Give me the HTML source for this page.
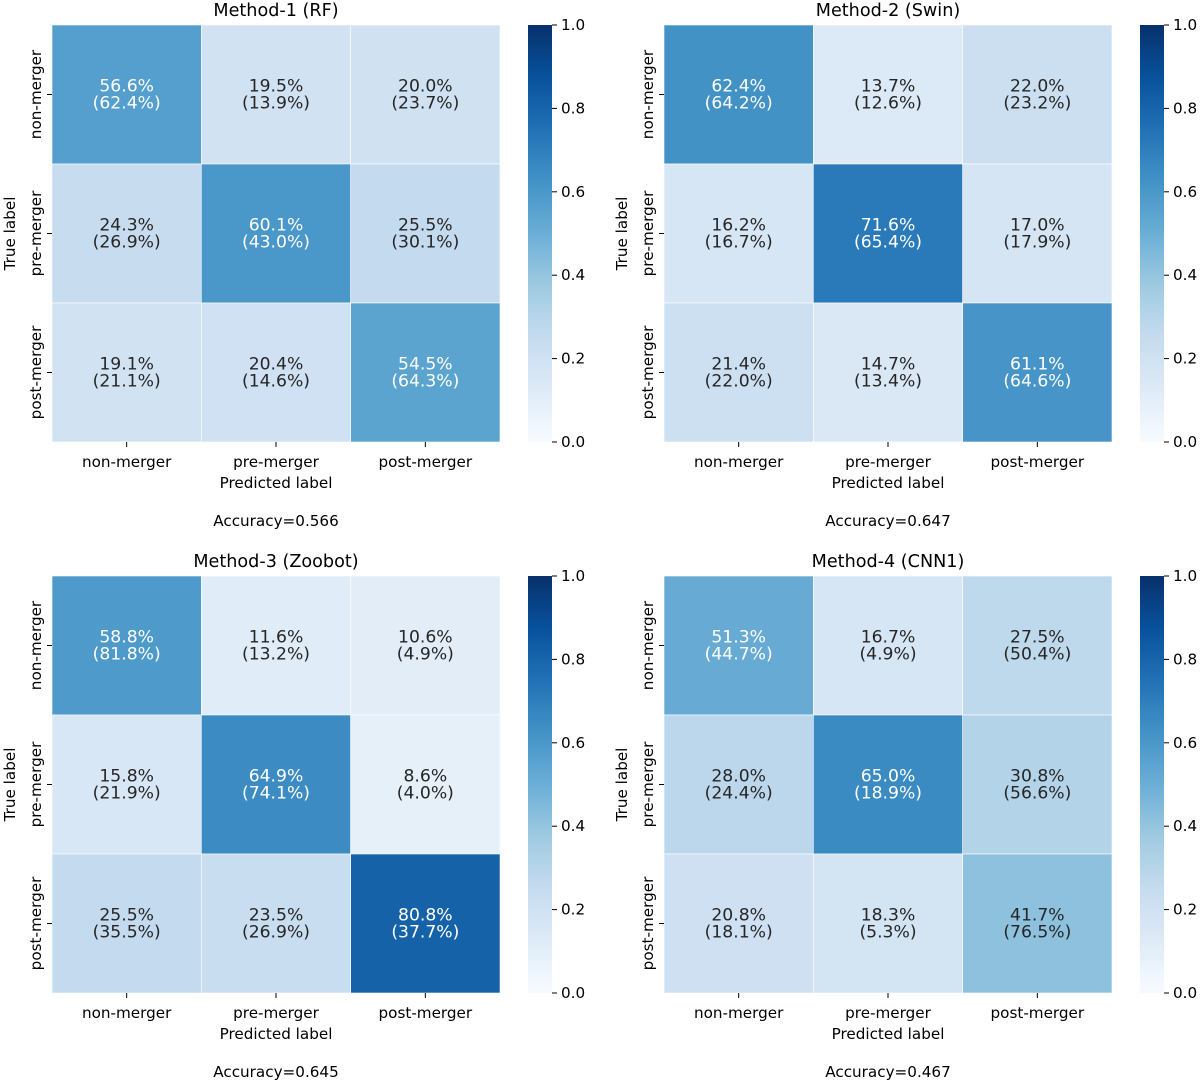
<!DOCTYPE html>
<html><head><meta charset="utf-8"><style>
body{margin:0;background:#fff}
svg{display:block;font-family:"DejaVu Sans","Liberation Sans",sans-serif}
</style></head><body>
<svg id="fig" width="1200" height="1083" viewBox="0 0 1200 1083"></svg>
<script>
const categories = ["non-merger","pre-merger","post-merger"];
const titles = ["Method-1 (RF)","Method-2 (Swin)","Method-3 (Zoobot)","Method-4 (CNN1)"];
const accuracies = ["0.566","0.647","0.645","0.467"];
const values1 = [[56.6,19.5,20.0],[24.3,60.1,25.5],[19.1,20.4,54.5]];
const paren1 = [[62.4,13.9,23.7],[26.9,43.0,30.1],[21.1,14.6,64.3]];
const values2 = [[62.4,13.7,22.0],[16.2,71.6,17.0],[21.4,14.7,61.1]];
const paren2 = [[64.2,12.6,23.2],[16.7,65.4,17.9],[22.0,13.4,64.6]];
const values3 = [[58.8,11.6,10.6],[15.8,64.9,8.6],[25.5,23.5,80.8]];
const paren3 = [[81.8,13.2,4.9],[21.9,74.1,4.0],[35.5,26.9,37.7]];
const values4 = [[51.3,16.7,27.5],[28.0,65.0,30.8],[20.8,18.3,41.7]];
const paren4 = [[44.7,4.9,50.4],[24.4,18.9,56.6],[18.1,5.3,76.5]];
const colorbarTicks = [0.0,0.2,0.4,0.6,0.8,1.0];

const allValues=[values1,values2,values3,values4];
const allParen=[paren1,paren2,paren3,paren4];
const stops=["#f7fbff","#deebf7","#c6dbef","#9ecae1","#6baed6","#4292c6","#2171b5","#08519c","#08306b"];
function hex(h){return [1,3,5].map(i=>parseInt(h.substr(i,2),16));}
function blues(v){v=Math.max(0,Math.min(1,v));const p=v*8;const i=Math.min(7,Math.floor(p));const t=p-i;
const a=hex(stops[i]),b=hex(stops[i+1]);return "rgb("+a.map((c,k)=>Math.round(c+(b[k]-c)*t)).join(",")+")";}
const NS="http://www.w3.org/2000/svg";
const fig=document.getElementById("fig");
function mk(tag,attrs,parent,text){const e=document.createElementNS(NS,tag);for(const k in attrs)e.setAttribute(k,attrs[k]);if(text!==undefined)e.textContent=text;parent.appendChild(e);return e;}
const W=448,H=417;
const origins=[[52,25],[664,25],[52,576],[664,576]];
for(let p=0;p<4;p++){
  const [ox,oy]=origins[p];
  const g=mk("g",{},fig);
  
  
  const cw=W/categories.length, ch=H/categories.length;
  const xs=j=>ox+j*cw, ys=i=>oy+i*ch;
  const t=mk("text",{x:ox+W/2,y:oy-9,"text-anchor":"middle","font-size":"17.6",fill:"#000"},g,titles[p]);
  
  
  for(let i=0;i<3;i++)for(let j=0;j<3;j++){
    const v=allValues[p][i][j];
    const r=mk("rect",{x:xs(j),y:ys(i),width:cw,height:ch,fill:blues(v/100),stroke:"#fff","stroke-width":"0.6"},g);
    
    
    const col=v/100>0.45?"#fff":"#262626";
    const tx=mk("text",{x:xs(j)+cw/2,y:ys(i)+ch/2-3,"text-anchor":"middle","font-size":"17.2",fill:col},g,v.toFixed(1)+"%");
    
    
    const tp=mk("text",{x:xs(j)+cw/2,y:ys(i)+ch/2+14,"text-anchor":"middle","font-size":"17.2",fill:col},g,"("+allParen[p][i][j].toFixed(1)+"%)");
    
    
  }
  for(let k=0;k<3;k++){
    mk("line",{x1:xs(k)+cw/2,x2:xs(k)+cw/2,y1:oy+H,y2:oy+H+5,stroke:"#000"},g);
    const xl=mk("text",{x:xs(k)+cw/2,y:oy+H+25,"text-anchor":"middle","font-size":"15.2",fill:"#000"},g,categories[k]);
    
    
    mk("line",{x1:ox-5,x2:ox,y1:ys(k)+ch/2,y2:ys(k)+ch/2,stroke:"#000"},g);
    const cy=ys(k)+ch/2, cx=ox-11;
    const yl=mk("text",{x:cx,y:cy,"text-anchor":"middle","font-size":"15.2",fill:"#000",transform:"rotate(-90 "+cx+" "+cy+")"},g,categories[k]);
    
    
  }
  const xt=mk("text",{x:ox+W/2,y:oy+H+46,"text-anchor":"middle","font-size":"15.2",fill:"#000"},g,"Predicted label");
  
  
  const ytx=ox-37, yty=oy+H/2;
  const yt=mk("text",{x:ytx,y:yty,"text-anchor":"middle","font-size":"15.2",fill:"#000",transform:"rotate(-90 "+ytx+" "+yty+")"},g,"True label");
  
  
  const ac=mk("text",{x:ox+W/2,y:oy+H+84,"text-anchor":"middle","font-size":"15.2",fill:"#000"},g,"Accuracy="+accuracies[p]);
  
  
  const bx=ox+476, bw=24;
  const defs=mk("defs",{},g);
  const lg=mk("linearGradient",{id:"cb"+p,x1:"0",y1:"1",x2:"0",y2:"0"},defs);
  for(let s=0;s<=16;s++)mk("stop",{offset:s/16,"stop-color":blues(s/16)},lg);
  const cb=mk("rect",{x:bx,y:oy,width:bw,height:H,fill:"url(#cb"+p+")"},g);
  
  
  const cys=v=>oy+H-v*H;
  colorbarTicks.forEach(v=>{
    mk("line",{x1:bx+bw,x2:bx+bw+5,y1:cys(v),y2:cys(v),stroke:"#000"},g);
    const ct=mk("text",{x:bx+bw+9,y:cys(v)+5,"font-size":"15.2",fill:"#000"},g,v.toFixed(1));
    
    
  });
}
</script>
</body></html>
